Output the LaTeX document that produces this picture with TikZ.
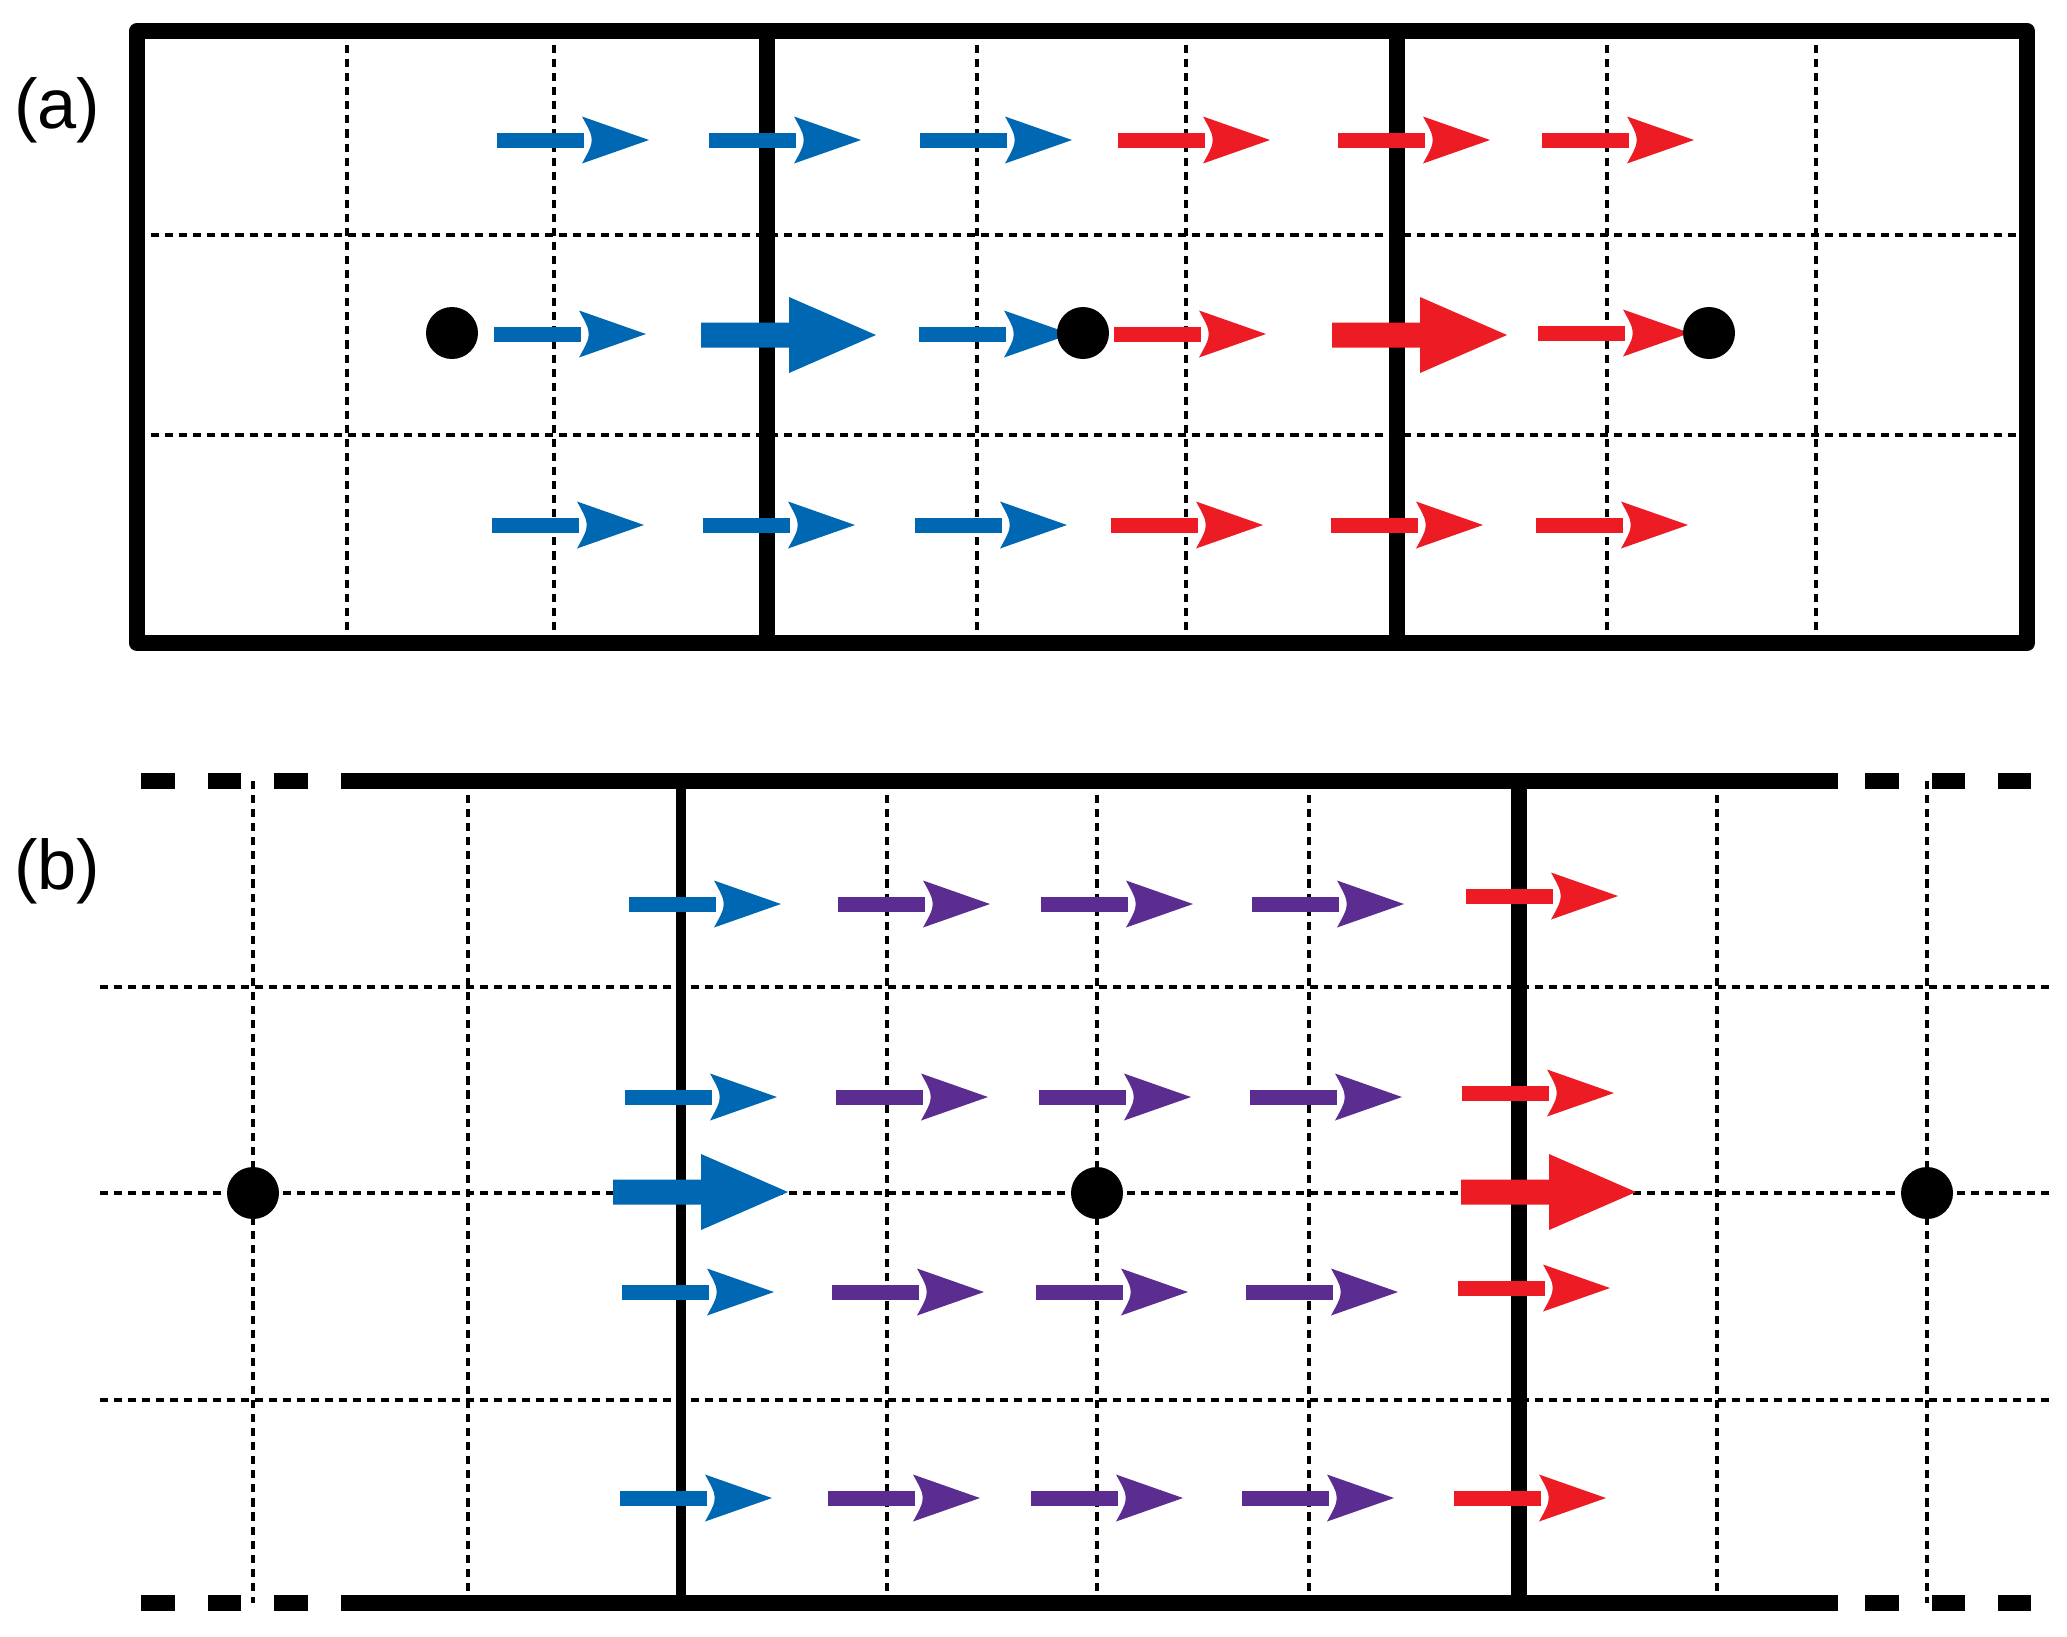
\documentclass[tikz,border=0pt]{standalone}
\usepackage{fontspec}
\setmainfont{Liberation Sans}
\definecolor{cblue}{RGB}{0,103,178}
\definecolor{cred}{RGB}{237,28,36}
\definecolor{cpurple}{RGB}{92,45,145}
\tikzset{
  gridline/.style={line width=1.1pt, dash pattern=on 2.3pt off 1.7pt},
  wall/.style={line width=4.6pt},
  thinwall/.style={line width=2.85pt},
  dot/.style={fill=black},
  panellabel/.style={inner sep=0pt, font=\fontsize{20}{23}\selectfont},
  pics/sarrow/.style={code={
    \fill[#1] (0,-7.5) rectangle (87,7.5);
    \fill[#1] (85,-23.5) -- (152,0) -- (85,23.5) .. controls (98,0) .. cycle;
  }},
  pics/barrow/.style={code={
    \fill[#1] (0,-12.5) -- (88,-12.5) -- (88,-38) -- (175,0) -- (88,38) -- (88,12.5) -- (0,12.5) -- cycle;
  }},
}
\begin{document}
\begin{tikzpicture}[x=0.01cm,y=-0.01cm]
\useasboundingbox (0,0) rectangle (2067,1636);
\fill[white] (0,0) rectangle (2067,1636);

% ---------- panel (a) ----------
\foreach \x in {347,554,977,1186,1607,1816} \draw[gridline] (\x,31) -- (\x,643);
\foreach \y in {235,435} \draw[gridline] (137,\y) -- (2027,\y);
\draw[wall, line join=round] (137,31) rectangle (2027,643);
\foreach \x in {767,1397} \draw[wall] (\x,31) -- (\x,643);

\foreach \x in {497,709,920} \pic at (\x,140) {sarrow=cblue};
\foreach \x in {1118,1338,1542} \pic at (\x,140) {sarrow=cred};

\pic at (494,334) {sarrow=cblue};
\pic at (701,335) {barrow=cblue};
\pic at (919,334) {sarrow=cblue};
\pic at (1114,334) {sarrow=cred};
\pic at (1332,335) {barrow=cred};
\pic at (1538,333) {sarrow=cred};

\foreach \x in {492,703,915} \pic at (\x,525) {sarrow=cblue};
\foreach \x in {1111,1331,1536} \pic at (\x,525) {sarrow=cred};

\foreach \x in {452,1083,1709} \fill[dot] (\x,333) circle (26);

% ---------- panel (b) ----------
\foreach \x in {253,468,887,1097,1309,1717,1927} \draw[gridline] (\x,781) -- (\x,1603);
\foreach \y in {987,1193,1400} \draw[gridline] (100,\y) -- (2049,\y);
\foreach \y in {781,1603} {
  \foreach \a/\b in {141/175,208/241,274/308,341/1838,1865/1899,1932/1965,1998/2031}
    \draw[wall] (\a,\y) -- (\b,\y);
}
\draw[thinwall] (681,781) -- (681,1603);
\draw[wall] (1519,781) -- (1519,1603);

\pic at (629,904) {sarrow=cblue};
\foreach \x in {838,1041,1252} \pic at (\x,904) {sarrow=cpurple};
\pic at (1466,896) {sarrow=cred};

\pic at (625,1097) {sarrow=cblue};
\foreach \x in {836,1039,1250} \pic at (\x,1097) {sarrow=cpurple};
\pic at (1462,1093) {sarrow=cred};

\pic at (613,1192) {barrow=cblue};
\pic at (1461,1192) {barrow=cred};

\pic at (622,1292) {sarrow=cblue};
\foreach \x in {832,1036,1246} \pic at (\x,1292) {sarrow=cpurple};
\pic at (1458,1288) {sarrow=cred};

\pic at (620,1498) {sarrow=cblue};
\foreach \x in {828,1031,1242} \pic at (\x,1498) {sarrow=cpurple};
\pic at (1454,1498) {sarrow=cred};

\foreach \x in {253,1097,1927} \fill[dot] (\x,1193) circle (26);

% labels
\node[panellabel] (la) at (57,110) {(a)};
\node[panellabel] (lb) at (57,871) {(b)};
\end{tikzpicture}
\end{document}
